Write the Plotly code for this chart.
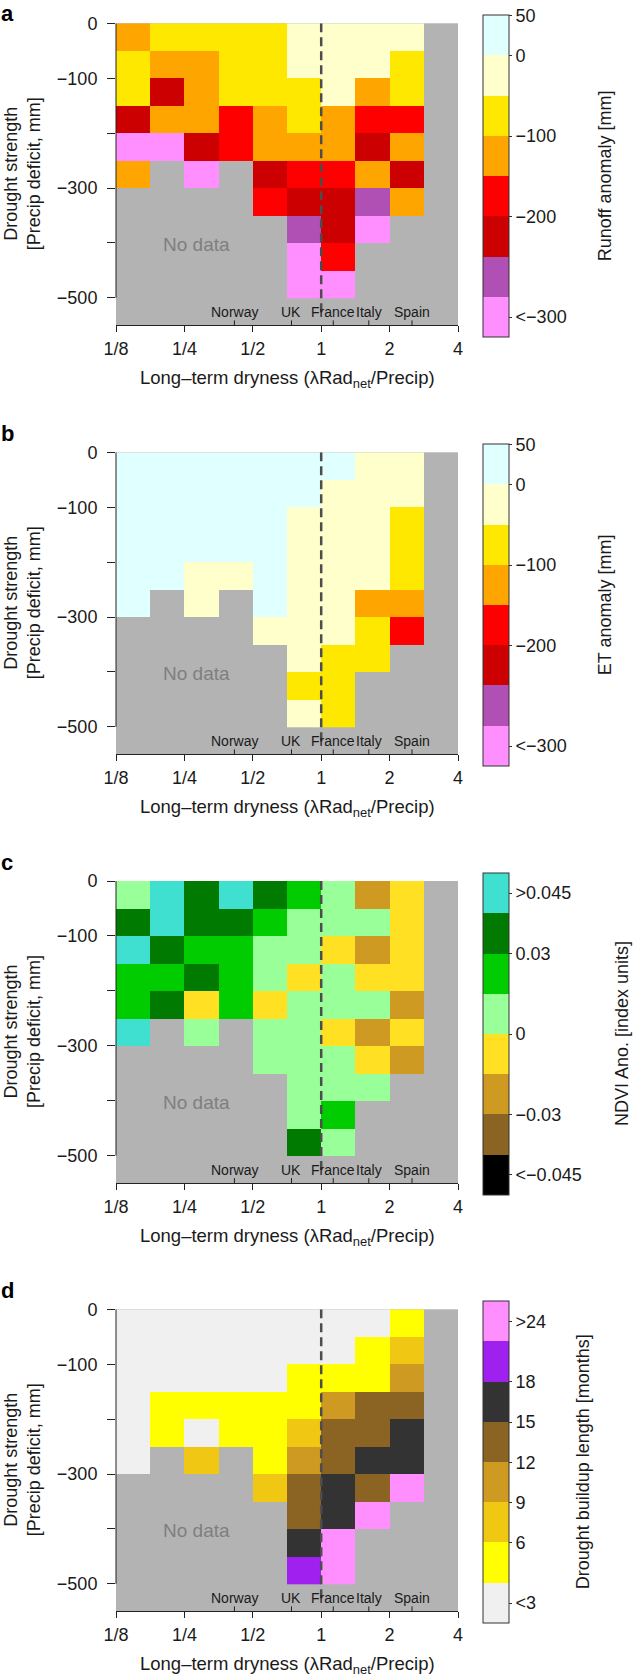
import numpy as np
import plotly.graph_objects as go

N = None

# ---------------- data ----------------
# columns: half-octave bins of long-term dryness from 1/8 to 4 (bin centres as log2 values)
dryness_bin_centres_log2 = [-2.75, -2.25, -1.75, -1.25, -0.75, -0.25, 0.25, 0.75, 1.25, 1.75]
# rows: 50 mm bins of precipitation deficit (bin centres, mm)
deficit_bin_centres = [-25, -75, -125, -175, -225, -275, -325, -375, -425, -475]

# panel a: runoff anomaly [mm] (bin mid values)
runoff_anomaly = [
    [-125, -75, -75, -75, -75, -25, -25, -25, -25, N],
    [-75, -125, -125, -75, -75, -25, -25, -25, -75, N],
    [-75, -225, -125, -75, -75, -75, -25, -125, -75, N],
    [-225, -125, -125, -175, -125, -75, -125, -175, -175, N],
    [-325, -325, -225, -175, -125, -125, -125, -225, -125, N],
    [-125, N, -325, N, -225, -175, -175, -125, -225, N],
    [N, N, N, N, -175, -225, -225, -275, -125, N],
    [N, N, N, N, N, -275, -225, -325, N, N],
    [N, N, N, N, N, -325, -175, N, N, N],
    [N, N, N, N, N, -325, -325, N, N, N],
]

# panel b: ET anomaly [mm]
et_anomaly = [
    [25, 25, 25, 25, 25, 25, 25, -25, -25, N],
    [25, 25, 25, 25, 25, 25, -25, -25, -25, N],
    [25, 25, 25, 25, 25, -25, -25, -25, -75, N],
    [25, 25, 25, 25, 25, -25, -25, -25, -75, N],
    [25, 25, -25, -25, 25, -25, -25, -25, -75, N],
    [25, N, -25, N, 25, -25, -25, -125, -125, N],
    [N, N, N, N, -25, -25, -25, -75, -175, N],
    [N, N, N, N, N, -25, -75, -75, N, N],
    [N, N, N, N, N, -75, -75, N, N, N],
    [N, N, N, N, N, -25, -75, N, N, N],
]

# panel c: NDVI anomaly [index units]
ndvi_anomaly = [
    [0.0075, 0.0525, 0.0375, 0.0525, 0.0375, 0.0225, 0.0075, -0.0225, -0.0075, N],
    [0.0375, 0.0525, 0.0375, 0.0375, 0.0225, 0.0075, 0.0075, 0.0075, -0.0075, N],
    [0.0525, 0.0375, 0.0225, 0.0225, 0.0075, 0.0075, -0.0075, -0.0225, -0.0075, N],
    [0.0225, 0.0225, 0.0375, 0.0225, 0.0075, -0.0075, 0.0075, -0.0075, -0.0075, N],
    [0.0225, 0.0375, -0.0075, 0.0225, -0.0075, 0.0075, 0.0075, 0.0075, -0.0225, N],
    [0.0525, N, 0.0075, N, 0.0075, 0.0075, -0.0075, -0.0225, -0.0075, N],
    [N, N, N, N, 0.0075, 0.0075, 0.0075, -0.0075, -0.0225, N],
    [N, N, N, N, N, 0.0075, 0.0075, 0.0075, N, N],
    [N, N, N, N, N, 0.0075, 0.0225, N, N, N],
    [N, N, N, N, N, 0.0375, 0.0075, N, N, N],
]

# panel d: drought buildup length [months]
buildup_months = [
    [1.5, 1.5, 1.5, 1.5, 1.5, 1.5, 1.5, 1.5, 4.5, N],
    [1.5, 1.5, 1.5, 1.5, 1.5, 1.5, 1.5, 4.5, 7.5, N],
    [1.5, 1.5, 1.5, 1.5, 1.5, 4.5, 4.5, 4.5, 10.5, N],
    [1.5, 4.5, 4.5, 4.5, 4.5, 4.5, 10.5, 13.5, 13.5, N],
    [1.5, 4.5, 1.5, 4.5, 4.5, 7.5, 13.5, 13.5, 16.5, N],
    [1.5, N, 7.5, N, 4.5, 10.5, 13.5, 16.5, 16.5, N],
    [N, N, N, N, 7.5, 13.5, 16.5, 13.5, 27, N],
    [N, N, N, N, N, 13.5, 16.5, 27, N, N],
    [N, N, N, N, N, 16.5, 27, N, N, N],
    [N, N, N, N, N, 21, 27, N, N, N],
]

# class edges
anom_edges = [-300, -250, -200, -150, -100, -50, 0]
ndvi_edges = [-0.045, -0.03, -0.015, 0, 0.015, 0.03, 0.045]
months_edges = [3, 6, 9, 12, 15, 18, 24]

anom_colors = ["#ff8fff", "#b04fb4", "#cc0000", "#ff0000", "#ffa500", "#ffe800", "#ffffcc", "#e0ffff"]
ndvi_colors = ["#000000", "#8b6423", "#cf9a22", "#ffe022", "#99ff99", "#00cc00", "#007a00", "#40e0d0"]
months_colors = ["#f0f0f0", "#ffff00", "#f0c814", "#cf9a22", "#8b6423", "#333333", "#a020f0", "#ff8fff"]

anom_cb_vals = [7.499, 6.5, 4.5, 2.5, 0]
anom_cb_text = ["50", "0", "\u2212100", "\u2212200", "<\u2212300"]
ndvi_cb_vals = [7, 5.5, 3.5, 1.5, 0]
ndvi_cb_text = [">0.045", "0.03", "0", "\u22120.03", "<\u22120.045"]
months_cb_vals = [7, 5.5, 4.5, 3.5, 2.5, 1.5, 0]
months_cb_text = [">24", "18", "15", "12", "9", "6", "<3"]

x_tick_vals = [-3, -2, -1, 0, 1, 2]
x_tick_text = ["1/8", "1/4", "1/2", "1", "2", "4"]
y_tick_vals = [-500, -300, -100, 0]
y_tick_text = ["\u2212500", "\u2212300", "\u2212100", "0"]
y_minor_tick_vals = [-400, -200]

countries = ["Norway", "UK", "France", "Italy", "Spain"]
country_dryness = [0.415, 0.74, 1.13, 1.62, 2.51]

# ---------------- figure ----------------
W, H = 634, 1680
PL, PR = 116, 458
tops = [23.3, 452.3, 881.0, 1309.3]
PH = 302
FONT = "Liberation Sans, Arial, Helvetica, sans-serif"
TXT = "#1a1a1a"


def py(p):
    return 1 - p / H


def px(p):
    return (p - PL) / (PR - PL)


def to_index(grid, edges):
    a = np.array([[np.nan if v is None else v for v in row] for row in grid], dtype=float)
    idx = np.digitize(np.nan_to_num(a), edges).astype(float)
    idx[np.isnan(a)] = np.nan
    return idx


def discrete_scale(colors):
    n = len(colors)
    sc = []
    for i, c in enumerate(colors):
        sc.append([i / n, c])
        sc.append([(i + 1) / n, c])
    return sc


panels = [
    ("a", runoff_anomaly, anom_edges, anom_colors, anom_cb_vals, anom_cb_text, "Runoff anomaly [mm]", 605),
    ("b", et_anomaly, anom_edges, anom_colors, anom_cb_vals, anom_cb_text, "ET anomaly [mm]", 605),
    ("c", ndvi_anomaly, ndvi_edges, ndvi_colors, ndvi_cb_vals, ndvi_cb_text, "NDVI Ano. [index units]", 622),
    ("d", buildup_months, months_edges, months_colors, months_cb_vals, months_cb_text,
     "Drought buildup length [months]", 583),
]

fig = go.Figure()
shapes = []
annotations = []
layout = dict(
    width=W, height=H, autosize=False,
    margin=dict(l=PL, r=W - PR, t=0, b=0, pad=0, autoexpand=False),
    paper_bgcolor="white", plot_bgcolor="#b3b3b3",
    showlegend=False,
    font=dict(family=FONT, size=18, color=TXT),
)

for k, (letter, grid, edges, colors, cbv, cbt, cbtitle, cbx) in enumerate(panels):
    T = tops[k]
    sfx = "" if k == 0 else str(k + 1)
    xa, ya = "x" + sfx, "y" + sfx
    idx = to_index(grid, edges)
    cb_center = T - 8 + 161
    fig.add_trace(go.Heatmap(
        x=dryness_bin_centres_log2, y=deficit_bin_centres, z=idx,
        zmin=-0.5, zmax=7.5, colorscale=discrete_scale(colors),
        xaxis=xa, yaxis=ya, hoverinfo="skip",
        colorbar=dict(
            x=px(483), xanchor="left", xpad=0,
            y=py(cb_center), yanchor="middle", ypad=0,
            len=322, lenmode="pixels", thickness=26,
            outlinewidth=1, outlinecolor="#333333",
            tickmode="array", tickvals=cbv, ticktext=cbt,
            ticks="outside", ticklen=3, tickcolor="#333333",
            tickfont=dict(family=FONT, size=18, color=TXT),
        ),
    ))
    layout["xaxis" + sfx] = dict(
        domain=[0, 1], range=[-3, 2], anchor=ya, automargin=False,
        tickmode="array", tickvals=x_tick_vals, ticktext=x_tick_text,
        ticks="outside", ticklen=6, tickwidth=1, tickcolor="#222222",
        showline=True, linecolor="#222222", linewidth=1,
        showgrid=False, zeroline=False, ticklabelstandoff=1,
        tickfont=dict(family=FONT, size=18, color=TXT),
    )
    layout["yaxis" + sfx] = dict(
        domain=[py(T + PH), py(T)], range=[-550, 0], anchor=xa, automargin=False,
        tickmode="array", tickvals=y_tick_vals, ticktext=y_tick_text,
        ticks="outside", ticklen=8, tickwidth=1, tickcolor="#222222",
        minor=dict(tickmode="array", tickvals=y_minor_tick_vals, ticks="outside",
                   ticklen=8, tickwidth=1, tickcolor="#222222", showgrid=False),
        showline=False, showgrid=False, zeroline=False, ticklabelstandoff=6,
        tickfont=dict(family=FONT, size=18, color=TXT),
    )
    # y axis line (0 to -500)
    shapes.append(dict(type="line", xref="paper", yref=ya, x0=0, x1=0, y0=-500, y1=0,
                       line=dict(color="#222222", width=1)))
    # dashed line at dryness = 1
    shapes.append(dict(type="line", xref=xa, yref=ya, x0=0, x1=0, y0=0, y1=-535,
                       line=dict(color="#4d4d4d", width=2.5, dash="9px,5px")))
    # country ticks and labels
    for name, d in zip(countries, country_dryness):
        lx = float(np.log2(d))
        shapes.append(dict(type="line", xref=xa, yref=ya, x0=lx, x1=lx, y0=-550, y1=-541,
                           line=dict(color="#222222", width=1)))
        annotations.append(dict(xref=xa, yref=ya, x=lx, y=-526, text=name, showarrow=False,
                                xanchor="center", yanchor="middle",
                                font=dict(family=FONT, size=14, color=TXT)))
    annotations.append(dict(xref=xa, yref=ya, x=-1.83, y=-403, text="No data", showarrow=False,
                            xanchor="center", yanchor="middle",
                            font=dict(family=FONT, size=19, color="#7f7f7f")))
    # panel letter
    if k == 0:
        letter_pos = dict(y=1.0, yanchor="top")
    else:
        letter_pos = dict(y=py(T - 5), yanchor="bottom")
    annotations.append(dict(xref="paper", yref="paper", x=px(0), text="<b>%s</b>" % letter,
                            showarrow=False, xanchor="left", borderpad=0,
                            font=dict(family=FONT, size=22, color="#000000"), **letter_pos))
    # y title
    annotations.append(dict(xref="paper", yref="paper", x=px(22), y=py(T + PH / 2),
                            text="Drought strength<br>[Precip deficit, mm]", textangle=-90,
                            showarrow=False, xanchor="center", yanchor="middle",
                            font=dict(family=FONT, size=18, color=TXT)))
    # x title
    annotations.append(dict(xref="paper", yref="paper", x=0.5, y=py(T + PH + 40),
                            text="Long\u2013term dryness (\u03bbRad<sub>net</sub>/Precip)",
                            showarrow=False, xanchor="center", yanchor="top",
                            font=dict(family=FONT, size=18.5, color=TXT)))
    # colorbar title
    annotations.append(dict(xref="paper", yref="paper", x=px(cbx), y=py(cb_center),
                            text=cbtitle, textangle=-90, showarrow=False,
                            xanchor="center", yanchor="middle",
                            font=dict(family=FONT, size=18, color=TXT)))

layout["shapes"] = shapes
layout["annotations"] = annotations
fig.update_layout(**layout)
fig.write_html("out.html", config={"displayModeBar": False, "responsive": False},
               post_script="document.body.style.margin='0px';")
